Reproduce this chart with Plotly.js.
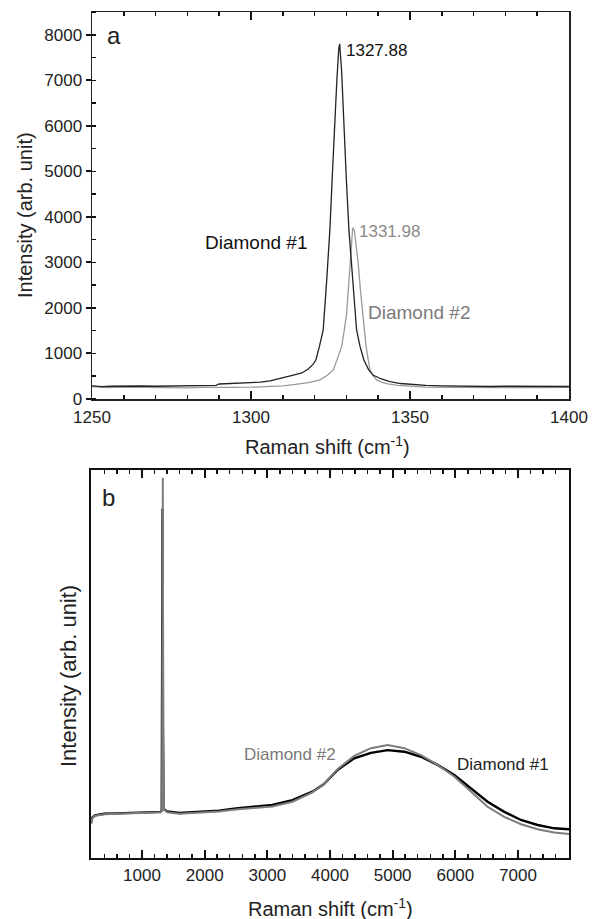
<!DOCTYPE html>
<html>
<head>
<meta charset="utf-8">
<script src="https://cdn.plot.ly/plotly-3.0.1.min.js"></script>
<style>html,body{margin:0;padding:0;background:#fff;}#panelA{width:599px;height:460px;}#panelB{width:599px;height:459px;}</style>
</head>
<body>
<div id="panelA"></div>
<div id="panelB"></div>
<script>
// ---- Panel a: Raman spectra near the diamond peak ----
var aD1X = [1250,1253,1256,1260,1265,1270,1275,1280,1285,1289,1290,1295,1300,1303,1306,1310,1313,1316,1318,1319.5,1320.4,1321.5,1322.7,1323.8,1324.8,1325.5,1326.2,1327,1327.6,1327.88,1328.5,1329.2,1330,1330.8,1332,1333.2,1334.3,1335.5,1337,1338.5,1341,1343.7,1347,1350,1355,1360,1365,1370,1375,1380,1385,1390,1395,1400];
var aD1Y = [290,270,280,275,285,280,285,285,290,300,330,340,355,370,400,460,520,571,660,760,857,1150,1516,2600,3710,4800,5910,7000,7700,7800,7200,5910,4800,3710,2600,1516,1150,857,640,520,440,380,340,320,300,290,280,285,275,280,275,280,270,275];
var aD2X = [1250,1255,1260,1265,1270,1275,1280,1285,1290,1295,1300,1305,1310,1314,1318,1321.7,1324,1325.9,1327.3,1328.5,1329.3,1330.1,1330.6,1331.1,1331.6,1331.98,1332.5,1333,1333.7,1334.4,1335.1,1335.6,1336.2,1336.8,1337.4,1338.3,1339.5,1341,1343,1346,1350,1355,1360,1370,1380,1390,1400];
var aD2Y = [270,250,260,255,250,255,245,255,250,255,260,270,290,320,360,420,520,640,900,1150,1500,1890,2400,2990,3500,3760,3700,3400,2990,2400,1890,1500,1150,900,640,520,420,370,330,300,280,260,255,250,255,250,255];

// ---- Panel b: wide-range spectra (arbitrary units) ----
var bD1X = [186,200,250,400,600,800,1000,1200,1300,1315,1322,1328,1335,1345,1400,1600,1800,2000,2226,2500,2800,3080,3400,3720,3900,4120,4386,4653,4919,5185,5451,5717,5983,6249,6515,6781,7047,7313,7579,7814];
var bD1Y = [9.0,10.3,11.0,11.4,11.5,11.6,11.7,11.8,11.9,12.3,40,90,30,12.6,12.0,11.6,11.8,12.0,12.2,12.8,13.2,13.7,14.9,17.1,19.0,22.7,25.7,27.1,27.8,27.4,26.1,24.0,21.4,18.0,14.5,11.9,9.8,8.5,7.65,7.4];
var bD2X = [186,200,250,400,600,800,1000,1200,1300,1320,1326,1332,1338,1350,1400,1600,1800,2000,2226,2500,2800,3080,3400,3720,3900,4120,4386,4653,4919,5185,5451,5717,5983,6249,6515,6781,7047,7313,7579,7814];
var bD2Y = [8.8,10.1,10.9,11.3,11.4,11.5,11.6,11.7,11.8,12.2,40,98,35,12.5,11.8,11.4,11.6,11.8,12.0,12.5,12.9,13.3,14.5,16.9,19.0,22.9,26.3,28.3,29.1,28.3,26.5,24.0,21.0,17.1,13.2,10.6,8.7,7.4,6.6,6.2];

var FONT = 'Liberation Sans, Arial, Helvetica, sans-serif';
function f(size, color) { return {size: size, family: FONT, color: color || '#222'}; }

// ----- Panel a -----
var AL = 92, AR = 599 - 569, AT = 12, AB = 460 - 399;
function ax_(x) { return (x - AL) / (599 - AL - AR); }
function ay_(y) { return 1 - (y - AT) / (460 - AT - AB); }

Plotly.newPlot('panelA', [
  {x: aD2X, y: aD2Y, type: 'scatter', mode: 'lines', line: {color: '#9a9a9a', width: 1.3}, name: 'Diamond #2'},
  {x: aD1X, y: aD1Y, type: 'scatter', mode: 'lines', line: {color: '#222', width: 1.3}, name: 'Diamond #1'}
], {
  width: 599, height: 460,
  margin: {l: AL, r: AR, t: AT, b: AB},
  showlegend: false,
  xaxis: {
    range: [1250, 1400], dtick: 50,
    ticks: 'inside', ticklen: 8, tickwidth: 2, tickcolor: '#111',
    minor: {ticks: 'inside', ticklen: 4, tickwidth: 1.5, tickcolor: '#111', dtick: 10},
    showline: true, linecolor: '#222', linewidth: 1.5, mirror: 'allticks',
    showgrid: false, tickfont: f(17), ticklabelstandoff: 2
  },
  yaxis: {
    range: [0, 8500], dtick: 1000,
    ticks: 'outside', ticklen: 5, tickwidth: 2, tickcolor: '#111',
    minor: {ticks: 'inside', ticklen: 4, tickwidth: 1.5, tickcolor: '#111', dtick: 500},
    showline: true, linecolor: '#222', linewidth: 1.5, mirror: true,
    showgrid: false, tickfont: f(17)
  },
  annotations: [
    {xref: 'paper', yref: 'paper', x: ax_(327), y: ay_(445), xanchor: 'center', yanchor: 'middle', text: 'Raman shift (cm<sup>-1</sup>)', showarrow: false, font: f(20)},
    {xref: 'paper', yref: 'paper', x: ax_(25), y: ay_(215), xanchor: 'center', yanchor: 'middle', textangle: -90, text: 'Intensity (arb. unit)', showarrow: false, font: f(20)},
    {xref: 'paper', yref: 'paper', x: ax_(105), y: ay_(35), xanchor: 'left', yanchor: 'middle', text: 'a', showarrow: false, font: f(24)},
    {xref: 'x', yref: 'y', x: 1329.4, y: 7650, xanchor: 'left', yanchor: 'middle', text: '1327.88', showarrow: false, font: f(17, '#111')},
    {xref: 'x', yref: 'y', x: 1333.4, y: 3680, xanchor: 'left', yanchor: 'middle', text: '1331.98', showarrow: false, font: f(17, '#8a8a8a')},
    {xref: 'x', yref: 'y', x: 1285.0, y: 3430, xanchor: 'left', yanchor: 'middle', text: 'Diamond #1', showarrow: false, font: f(19, '#111')},
    {xref: 'x', yref: 'y', x: 1336.2, y: 1890, xanchor: 'left', yanchor: 'middle', text: 'Diamond #2', showarrow: false, font: f(19, '#7a7a7a')}
  ]
}, {staticPlot: true});

// ----- Panel b -----
var BL = 91, BR = 599 - 569, BT = 10, BB = 459 - 398;
function bx_(x) { return (x - BL) / (599 - BL - BR); }
function by_(y) { return 1 - (y - 460 - BT) / (459 - BT - BB); }

Plotly.newPlot('panelB', [
  {x: bD1X, y: bD1Y, type: 'scatter', mode: 'lines', line: {color: '#000', width: 2.4}, name: 'Diamond #1'},
  {x: bD2X, y: bD2Y, type: 'scatter', mode: 'lines', line: {color: '#7c7c7c', width: 2.0}, name: 'Diamond #2'}
], {
  width: 599, height: 459,
  margin: {l: BL, r: BR, t: BT, b: BB},
  showlegend: false,
  xaxis: {
    range: [186, 7814], dtick: 1000,
    ticks: 'inside', ticklen: 8, tickwidth: 2, tickcolor: '#111',
    minor: {ticks: 'inside', ticklen: 4, tickwidth: 1.5, tickcolor: '#111', dtick: 200},
    showline: true, linecolor: '#111', linewidth: 2.2, mirror: 'allticks',
    showgrid: false, tickfont: f(17)
  },
  yaxis: {
    range: [0, 100],
    showticklabels: false, ticks: '',
    showline: true, linecolor: '#111', linewidth: 2.2, mirror: true,
    showgrid: false, zeroline: false
  },
  annotations: [
    {xref: 'paper', yref: 'paper', x: bx_(330), y: by_(907), xanchor: 'center', yanchor: 'middle', text: 'Raman shift (cm<sup>-1</sup>)', showarrow: false, font: f(20)},
    {xref: 'paper', yref: 'paper', x: bx_(68), y: by_(676), xanchor: 'center', yanchor: 'middle', textangle: -90, text: 'Intensity (arb. unit)', showarrow: false, font: f(22)},
    {xref: 'paper', yref: 'paper', x: bx_(100), y: by_(498), xanchor: 'left', yanchor: 'middle', text: 'b', showarrow: false, font: f(24)},
    {xref: 'x', yref: 'y', x: 2600, y: 26.7, xanchor: 'left', yanchor: 'middle', text: 'Diamond #2', showarrow: false, font: f(17, '#7a7a7a')},
    {xref: 'x', yref: 'y', x: 6000, y: 24.1, xanchor: 'left', yanchor: 'middle', text: 'Diamond #1', showarrow: false, font: f(17, '#222')}
  ]
}, {staticPlot: true});
</script>
</body>
</html>
